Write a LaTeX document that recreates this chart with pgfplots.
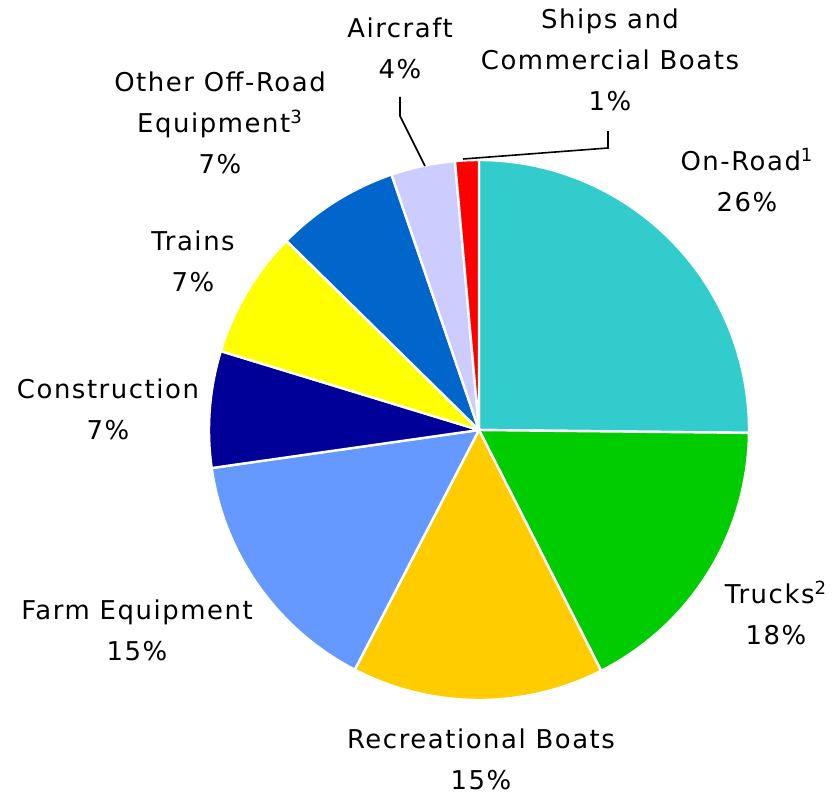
\documentclass[border=0pt]{standalone}
\usepackage{fontspec}
\setmainfont{DejaVu Sans}[LetterSpace=6]
\usepackage{pgfplots}
\pgfplotsset{compat=1.18}
\definecolor{onroad}{HTML}{33CCCC}
\definecolor{trucks}{HTML}{00CC00}
\definecolor{recboats}{HTML}{FFCC00}
\definecolor{farm}{HTML}{6699FF}
\definecolor{constr}{HTML}{000099}
\definecolor{trains}{HTML}{FFFF00}
\definecolor{otheroff}{HTML}{0066CC}
\definecolor{aircraft}{HTML}{CCCCFF}
\definecolor{ships}{HTML}{FF0000}
\begin{document}
\begin{tikzpicture}
\begin{axis}[width=416bp,height=396.5bp,scale only axis,
  xmin=0,xmax=832,ymin=0,ymax=793,y dir=reverse,hide axis,clip=false]
\def\cx{479}\def\cy{430}
\gdef\acc{90}
\foreach \v/\c in {25.17/onroad,17.36/trucks,15.08/recboats,15.14/farm,6.97/constr,7.64/trains,7.39/otheroff,3.83/aircraft,1.42/ships}{
  \pgfmathsetmacro\a{\acc}
  \pgfmathsetmacro\b{\acc-3.6*\v}
  \edef\temp{\noexpand\fill[\c,draw=white,line width=1.2bp,line join=round] (axis cs:\cx,\cy) -- ++(\a:135bp) arc[start angle=\a,end angle=\b,radius=135bp] -- cycle;}
  \temp
  \xdef\acc{\b}
}
\draw[black,line width=0.8bp] (axis cs:400,97) -- (axis cs:400,116) -- (axis cs:425,166);
\draw[black,line width=0.8bp] (axis cs:608,131) -- (axis cs:608,148) -- (axis cs:463,159);
\tikzset{lab/.style={align=center,font=\fontsize{13}{20.5}\selectfont,inner sep=0pt}}
\node[lab] at (axis cs:610,60) {Ships and\\Commercial Boats\\1\%};
\node[lab] at (axis cs:400,48) {Aircraft\\4\%};
\node[lab] at (axis cs:220,123) {Other Off-Road\\Equipment\textsuperscript{3}\\7\%};
\node[lab] at (axis cs:193,261) {Trains\\7\%};
\node[lab] at (axis cs:108,409) {Construction\\7\%};
\node[lab] at (axis cs:137,630) {Farm Equipment\\15\%};
\node[lab] at (axis cs:481,759) {Recreational Boats\\15\%};
\node[lab] at (axis cs:776,613) {Trucks\textsuperscript{2}\\18\%};
\node[lab] at (axis cs:747,180) {On-Road\textsuperscript{1}\\26\%};
\end{axis}
\pgfresetboundingbox
\path[use as bounding box] (current axis.south west) rectangle (current axis.north east);
\end{tikzpicture}
\end{document}
